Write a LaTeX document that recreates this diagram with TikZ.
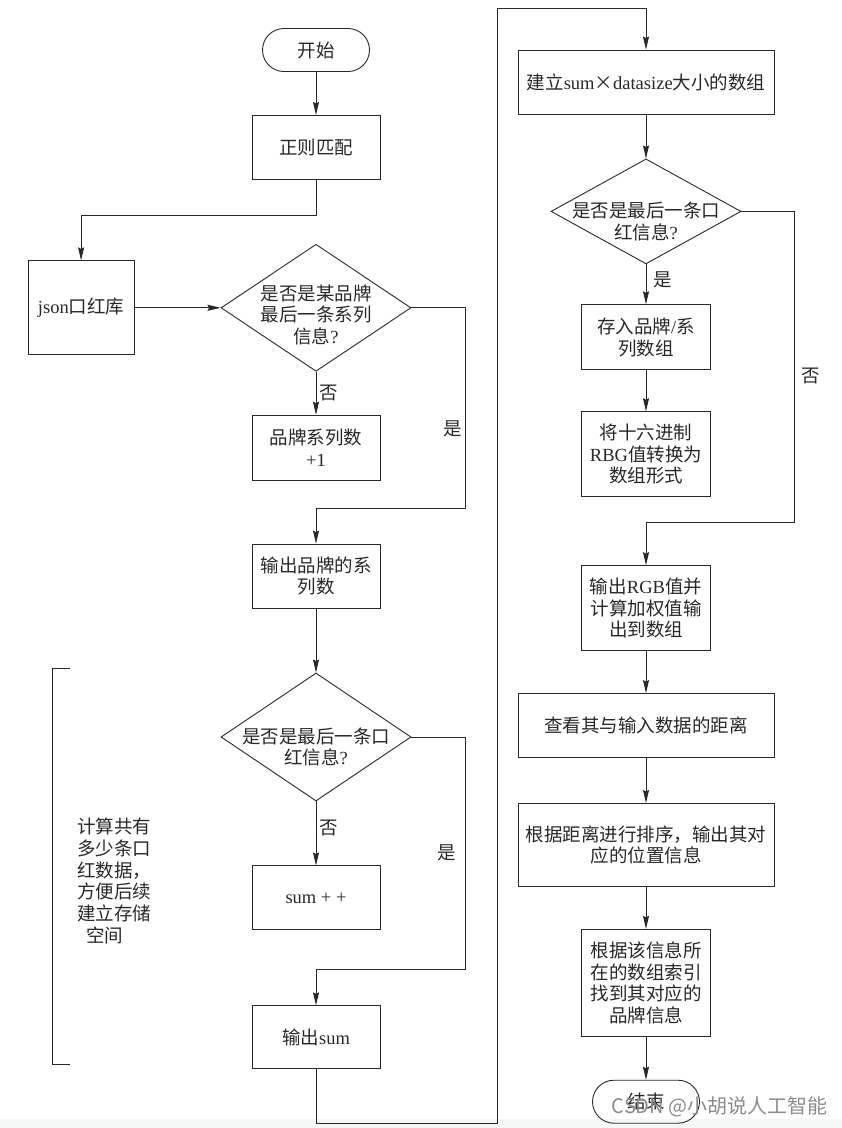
\documentclass[tikz,border=0pt]{standalone}
\usepackage{fontspec}
\setmainfont{Liberation Serif}
\newfontfamily\cjk{Noto Sans CJK SC}
\usetikzlibrary{arrows.meta, positioning, shapes.geometric}
\definecolor{inkgray}{RGB}{40,40,40}
\definecolor{markgray}{RGB}{140,140,140}
\definecolor{bandgray}{RGB}{245,246,246}
\newcommand{\zh}[1]{{\cjk #1}}
\newcommand{\boxfont}{\fontsize{18.5pt}{21.5pt}\selectfont}

\begin{document}
\begin{tikzpicture}[x=1pt, y=-1pt, >={Stealth[length=13pt,width=6pt,inset=1.5pt]},
    line width=0.9pt, color=inkgray,
    block/.style={draw, rectangle, minimum width=128pt, minimum height=64pt, align=center, font=\boxfont, inner sep=2pt},
    wideblock/.style={block, minimum width=256pt},
    terminal/.style={draw, rectangle, rounded corners=21.5pt, minimum width=107pt, minimum height=43pt, font=\boxfont},
    decision/.style={draw, diamond, minimum width=190pt, minimum height=127pt, inner sep=0pt},
    dlabel/.style={align=center, font=\boxfont, inner sep=0pt},
    branch/.style={font=\boxfont, inner sep=3pt},
    note/.style={align=left, font=\fontsize{18.5pt}{21.8pt}\selectfont, inner sep=0pt}]
    \fill[white] (0,0) rectangle (842,1128);
    \fill[bandgray] (0,1119) rectangle (842,1128);
    \useasboundingbox (0,0) rectangle (842,1128);

    % left column: brand series and item count
    \node[terminal] (start) at (316,50) {\zh{开始}};
    \node[block, below=43pt of start] (match) {\zh{正则匹配}};
    \node[decision, below=64pt of match,
          label={[name=brandq, dlabel, yshift=-7pt]center:{\zh{是否是某品牌}\\\zh{最后一条系列}\\\zh{信息}?}}] (brandlast) {};
    \node[block, minimum width=106pt, minimum height=94pt, left=86pt of brandlast] (jsonlib) {json\zh{口红库}};
    \node[block, minimum height=65pt, below=43pt of brandlast] (plusone) {\zh{品牌系列数}\\+1};
    \node[block, below=63pt of plusone] (outbrand) {\zh{输出品牌的系}\\\zh{列数}};
    \node[decision, minimum height=128pt, below=64pt of outbrand,
          label={[name=countq, dlabel, yshift=-10pt]center:{\zh{是否是最后一条口}\\\zh{红信息}?}}] (countlast) {};
    \node[block, below=64pt of countlast] (sumpp) {sum + +};
    \node[block, minimum height=63pt, below=75pt of sumpp] (outsum) {\zh{输出}sum};

    \draw (70,668) -- (52,668) -- (52,1064) -- (70,1064);
    \node[note, anchor=west] (countnote) at (77,881)
        {\zh{计算共有}\\\zh{多少条口}\\\zh{红数据，}\\\zh{方便后续}\\\zh{建立存储}\\\hspace*{9pt}\zh{空间}};

    % right column: arrays and matching
    \node[wideblock] (build) at (646,82) {\zh{建立}sum\zh{×}datasize\zh{大小的数组}};
    \node[decision, minimum height=105pt, below=44pt of build,
          label={[name=itemq, dlabel, yshift=-10pt]center:{\zh{是否是最后一条口}\\\zh{红信息}?}}] (itemlast) {};
    \node[block, minimum width=129pt, minimum height=65pt, below=40pt of itemlast] (store) {\zh{存入品牌}/\zh{系}\\\zh{列数组}};
    \node[block, minimum width=129pt, minimum height=85pt, below=41pt of store] (hex) {\zh{将十六进制}\\RBG\zh{值转换为}\\\zh{数组形式}};
    \node[block, minimum width=129pt, minimum height=85pt, below=68pt of hex] (rgb) {\zh{输出}RGB\zh{值并}\\\zh{计算加权值输}\\\zh{出到数组}};
    \node[wideblock, below=42pt of rgb] (dist) {\zh{查看其与输入数据的距离}};
    \node[wideblock, minimum height=83pt, below=45pt of dist] (sort) {\zh{根据距离进行排序，输出其对}\\\zh{应的位置信息}};
    \node[block, minimum width=129pt, minimum height=107pt, below=42pt of sort] (locate) {\zh{根据该信息所}\\\zh{在的数组索引}\\\zh{找到其对应的}\\\zh{品牌信息}};
    \node[terminal, below=43pt of locate] (finish) {\zh{结束}};
    \coordinate (upturn) at (497,8);

    \draw[->] (start) -- (match);
    \draw[->] (match.south) -- ++(0,36) -| (jsonlib.north);
    \draw[->] (jsonlib) -- (brandlast);
    \draw[->] (brandlast.south) -- node[branch, right, pos=0.5] {\zh{否}} (plusone.north);
    \draw[->] (brandlast.east) -- ++(54,0) -- ++(0,201) node[branch, left, pos=0.6] {\zh{是}} -| (outbrand.north);
    \draw[->] (outbrand) -- (countlast);
    \draw[->] (countlast.south) -- node[branch, right, pos=0.42] {\zh{否}} (sumpp.north);
    \draw[->] (countlast.east) -- ++(54,0) -- ++(0,232) node[branch, left=6pt, pos=0.5] {\zh{是}} -| (outsum.north);
    \draw[->] (outsum.south) -- ++(0,54) -| (upturn) -| (build.north);
    \draw[->] (build) -- (itemlast);
    \draw[->] (itemlast.south) -- node[branch, right=4pt, pos=0.38] {\zh{是}} (store.north);
    \draw[->] (itemlast.east) -- ++(53,0) -- ++(0,311) node[branch, right=4pt, pos=0.53] {\zh{否}} -| (rgb.north);
    \draw[->] (store) -- (hex);
    \draw[->] (rgb) -- (dist);
    \draw[->] (dist) -- (sort);
    \draw[->] (sort) -- (locate);
    \draw[->] (locate) -- (finish);

    \node[text=markgray, font=\fontsize{20pt}{22pt}\cjk, anchor=east, inner sep=0pt] (watermark) at (828,1107) {CSDN @小胡说人工智能};
\end{tikzpicture}
\end{document}
